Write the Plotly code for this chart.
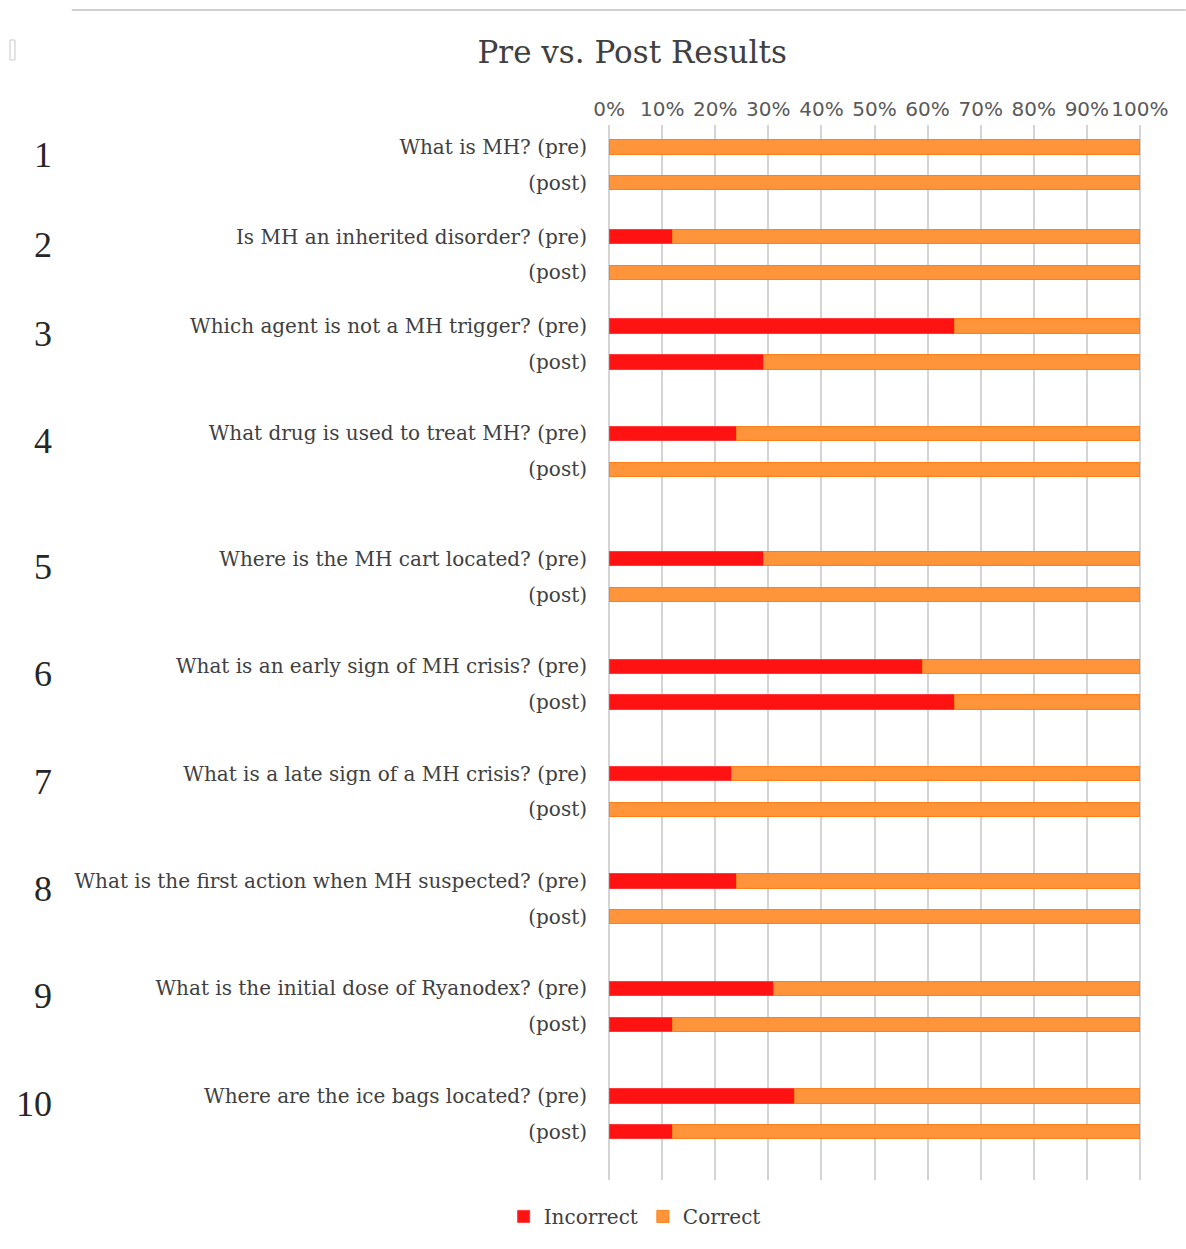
import plotly.graph_objects as go

# ---- data ----
questions = [
    "What is MH?",
    "Is MH an inherited disorder?",
    "Which agent is not a MH trigger?",
    "What drug is used to treat MH?",
    "Where is the MH cart located?",
    "What is an early sign of MH crisis?",
    "What is a late sign of a MH crisis?",
    "What is the first action when MH suspected?",
    "What is the initial dose of Ryanodex?",
    "Where are the ice bags located?",
]
question_numbers = ["1", "2", "3", "4", "5", "6", "7", "8", "9", "10"]
incorrect_pre = [0, 12, 65, 24, 29, 59, 23, 24, 31, 35]
correct_pre = [100, 88, 35, 76, 71, 41, 77, 76, 69, 65]
incorrect_post = [0, 0, 29, 0, 0, 65, 0, 0, 12, 12]
correct_post = [100, 100, 71, 100, 100, 35, 100, 100, 88, 88]
x_ticks = [0, 10, 20, 30, 40, 50, 60, 70, 80, 90, 100]

# ---- layout helpers (spacing of rows) ----
gap_after_group = [2, 2, 3, 4, 3, 3, 3, 3, 3]  # blank rows between groups
categories, ticktext = [], []
ycat, xin, xco = [], [], []
for i, q in enumerate(questions):
    pre_id, post_id = f"q{i+1}_pre", f"q{i+1}_post"
    categories += [pre_id, f"s{i}_mid"]
    ticktext += [f"{q} (pre)", ""]
    categories.append(post_id)
    ticktext.append("(post)")
    ycat += [pre_id, post_id]
    xin += [incorrect_pre[i] / 100, incorrect_post[i] / 100]
    xco += [correct_pre[i] / 100, correct_post[i] / 100]
    if i < len(gap_after_group):
        for k in range(gap_after_group[i]):
            categories.append(f"s{i}_gap{k}")
            ticktext.append("")

n = len(categories)
serif = "DejaVu Serif"
serif2 = "Liberation Serif"

fig = go.Figure()
fig.add_trace(go.Bar(
    y=ycat, x=xin, orientation="h", name="Incorrect",
    marker=dict(color="#ff1212", line=dict(color="#ff3a3a", width=1)),
))
fig.add_trace(go.Bar(
    y=ycat, x=xco, orientation="h", name="Correct",
    marker=dict(color="#ff943a", line=dict(color="#ff7f1a", width=1)),
))

annotations = []
for i, num in enumerate(question_numbers):
    annotations.append(dict(
        x=-1.0394, xref="paper", y=f"q{i+1}_pre", yref="y", yshift=-8,
        text=num, showarrow=False, xanchor="right", yanchor="middle",
        font=dict(family=serif2, size=36, color="#262626"),
    ))

fig.update_layout(
    width=1186, height=1249,
    paper_bgcolor="white", plot_bgcolor="white",
    barmode="stack", bargap=0.2,
    margin=dict(l=608, r=45, t=125, b=69, autoexpand=False),
    title=dict(text="Pre vs. Post Results", x=0.533, xanchor="center",
               y=0.958, yanchor="middle",
               font=dict(family=serif, size=31, color="#404040")),
    showlegend=True,
    legend=dict(orientation="h", x=0.05, xanchor="center", y=-0.016, yanchor="top",
                font=dict(family=serif, size=20, color="#404040"),
                traceorder="normal"),
    xaxis=dict(
        side="top", range=[-0.002, 1.002], tickmode="array",
        tickvals=[t / 100 for t in x_ticks],
        ticktext=[f"{t}%" for t in x_ticks],
        showgrid=True, gridcolor="#d4d4d4", gridwidth=2,
        zeroline=False, showline=False, ticks="",
        tickangle=0, ticklabelstandoff=4,
        tickfont=dict(family="DejaVu Sans", size=20, color="#595959"),
        fixedrange=True,
    ),
    yaxis=dict(
        type="category", categoryorder="array", categoryarray=categories,
        tickmode="array", tickvals=categories, ticktext=ticktext,
        range=[n - 1 + 2.7, -1.23],
        showgrid=False, zeroline=False, showline=False, ticks="",
        ticklabelstandoff=20,
        tickfont=dict(family=serif, size=20, color="#404040"),
    ),
    annotations=annotations,
    shapes=[
        dict(type="line", xref="paper", yref="paper", x0=-1.006, x1=1.084,
             y0=1.109, y1=1.109, line=dict(color="#d0d0d0", width=2)),
        dict(type="rect", xref="paper", yref="paper", x0=-1.122, x1=-1.1126,
             y0=1.0616, y1=1.0806, line=dict(color="#c8c8c8", width=1)),
    ],
)

fig.write_html("out.html")
